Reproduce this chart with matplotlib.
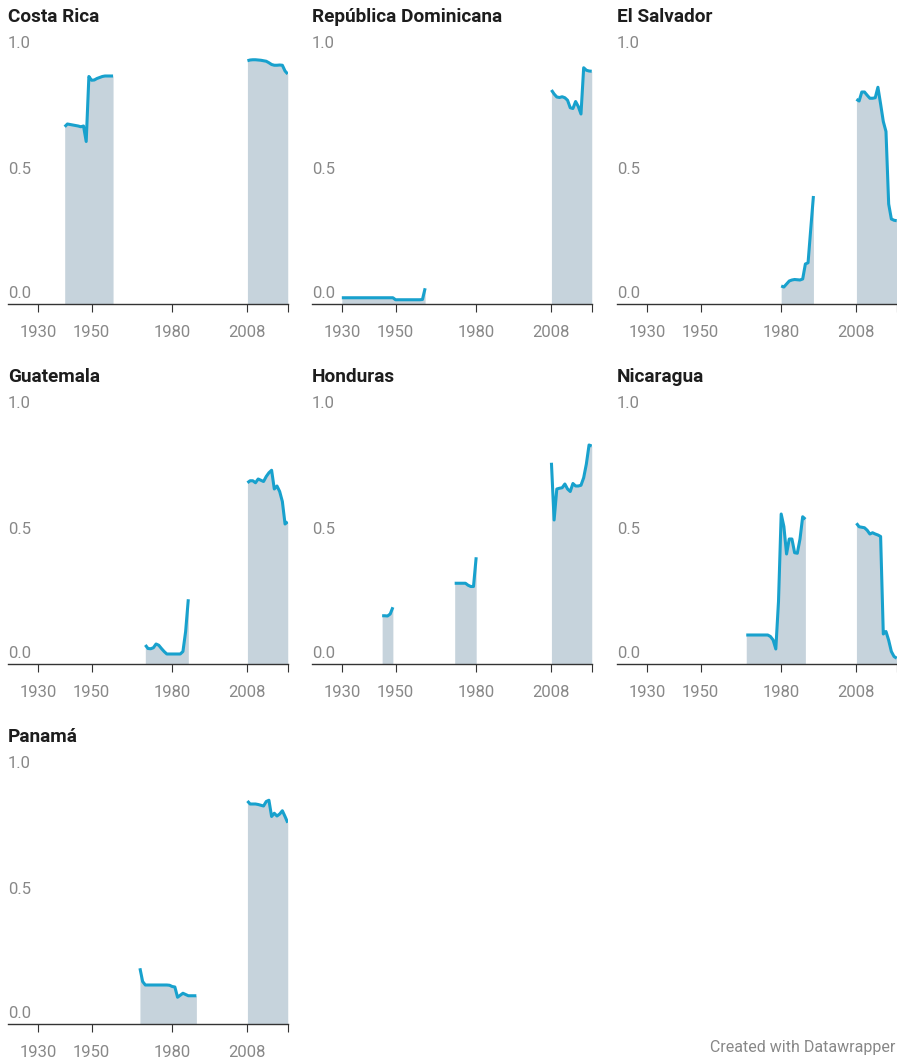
import numpy as np
import matplotlib.pyplot as plt
import matplotlib.transforms as mtransforms

plt.rcParams['font.family'] = ['Roboto', 'DejaVu Sans']

W, H = 897, 1062

countries = ['Costa Rica', 'República Dominicana', 'El Salvador',
             'Guatemala', 'Honduras', 'Nicaragua', 'Panamá']

# first year of each unbroken stretch, and the yearly values in it
costa_rica_start = [1940, 2008]
costa_rica_values = [
    [0.709, 0.72, 0.718, 0.716, 0.714, 0.712, 0.709, 0.712, 0.65, 0.91,
     0.895, 0.896, 0.902, 0.906, 0.91, 0.912, 0.912, 0.912, 0.912],
    [0.973, 0.976, 0.977, 0.977, 0.976, 0.975, 0.973, 0.971, 0.965, 0.958,
     0.955, 0.955, 0.956, 0.955, 0.932, 0.92],
]

dominicana_start = [1930, 2008]
dominicana_values = [
    [0.025, 0.025, 0.025, 0.025, 0.025, 0.025, 0.025, 0.025, 0.025, 0.025,
     0.025, 0.025, 0.025, 0.025, 0.025, 0.025, 0.025, 0.025, 0.025, 0.025,
     0.017, 0.017, 0.017, 0.017, 0.017, 0.017, 0.017, 0.017, 0.017, 0.017,
     0.018, 0.063],
    [0.856, 0.84, 0.828, 0.826, 0.829, 0.825, 0.815, 0.785, 0.782, 0.81,
     0.79, 0.76, 0.945, 0.935, 0.932, 0.931],
]

salvador_start = [1980, 2008]
salvador_values = [
    [0.072, 0.068, 0.08, 0.092, 0.096, 0.098, 0.097, 0.096, 0.1, 0.16,
     0.165, 0.30, 0.432],
    [0.819, 0.812, 0.848, 0.848, 0.835, 0.823, 0.823, 0.825, 0.867, 0.80,
     0.73, 0.69, 0.40, 0.34, 0.335, 0.333],
]

guatemala_start = [1970, 2008]
guatemala_values = [
    [0.076, 0.062, 0.061, 0.065, 0.08, 0.075, 0.062, 0.05, 0.04, 0.04,
     0.04, 0.04, 0.04, 0.04, 0.05, 0.13, 0.259],
    [0.725, 0.733, 0.733, 0.725, 0.74, 0.735, 0.73, 0.75, 0.765, 0.775,
     0.70, 0.712, 0.69, 0.65, 0.56, 0.569],
]

honduras_start = [1945, 1972, 2008]
honduras_values = [
    [0.193, 0.193, 0.192, 0.20, 0.227],
    [0.323, 0.323, 0.323, 0.323, 0.323, 0.315, 0.31, 0.31, 0.427],
    [0.805, 0.576, 0.70, 0.703, 0.705, 0.72, 0.70, 0.69, 0.722, 0.712,
     0.712, 0.715, 0.745, 0.80, 0.876, 0.872],
]

nicaragua_start = [1967, 2008]
nicaragua_values = [
    [0.116, 0.116, 0.116, 0.116, 0.116, 0.116, 0.116, 0.116, 0.116, 0.11,
     0.096, 0.06, 0.25, 0.60, 0.55, 0.44, 0.50, 0.50, 0.445, 0.443,
     0.50, 0.589, 0.579],
    [0.563, 0.549, 0.547, 0.545, 0.535, 0.52, 0.525, 0.52, 0.516, 0.51,
     0.12, 0.13, 0.095, 0.05, 0.03, 0.023],
]

panama_start = [1968, 2008]
panama_values = [
    [0.223, 0.17, 0.156, 0.156, 0.156, 0.156, 0.156, 0.156, 0.156, 0.156,
     0.156, 0.155, 0.15, 0.148, 0.107, 0.115, 0.123, 0.118, 0.113, 0.113,
     0.113, 0.113],
    [0.892, 0.88, 0.88, 0.88, 0.878, 0.875, 0.872, 0.89, 0.895, 0.83,
     0.843, 0.832, 0.84, 0.853, 0.83, 0.805],
]

starts = [costa_rica_start, dominicana_start, salvador_start, guatemala_start,
          honduras_start, nicaragua_start, panama_start]
values = [costa_rica_values, dominicana_values, salvador_values,
          guatemala_values, honduras_values, nicaragua_values, panama_values]

x_ticks = [1930, 1950, 1980, 2008, 2023]
x_tick_labels = ['1930', '1950', '1980', '2008', '']
y_ticks = [0.0, 0.5, 1.0]

line_color = '#18a1cd'
area_color = '#c6d3dc'
grey = '#888888'

# panel placement in pixels: left edge of the axis line, y of the baseline
col_left = [8, 312, 617]
row_base = [304, 664, 1024]
panel_w = 280
panel_h = 262.5

fig = plt.figure(figsize=(W / 100, H / 100), dpi=100)

for i, name in enumerate(countries):
    row, col = divmod(i, 3)
    left = col_left[col]
    base = row_base[row]
    ax = fig.add_axes([left / W, 1 - base / H, panel_w / W, panel_h / H])
    ax.set_xlim(1918.9, 2023.1)
    ax.set_ylim(0, 1.05)

    for start, vals in zip(starts[i], values[i]):
        yrs = np.arange(start, start + len(vals))
        ax.fill_between(yrs, vals, 0, color=area_color, lw=0)
        ax.plot(yrs, vals, color=line_color, lw=2.2,
                solid_joinstyle='round', solid_capstyle='butt')

    for s in ['top', 'right', 'left']:
        ax.spines[s].set_visible(False)
    ax.spines['bottom'].set_color('#333333')
    ax.spines['bottom'].set_linewidth(1)

    ax.set_xticks(x_ticks)
    ax.set_xticklabels(x_tick_labels)
    ax.tick_params(axis='x', length=5.5, width=0.8, color='#333333',
                   labelcolor=grey, labelsize=12, pad=9.5)
    ax.set_yticks([])

    # y labels sit just above their (invisible) grid lines
    ylab_tr = mtransforms.offset_copy(ax.get_yaxis_transform(), fig=fig,
                                      y=5.5, units='dots')
    for v in y_ticks:
        ax.text(0, v, f'{v:.1f}', transform=ylab_tr, ha='left',
                va='baseline', fontsize=12, color=grey)

    title_tr = mtransforms.offset_copy(ax.transAxes, fig=fig,
                                       y=281.5, units='dots')
    ax.text(0, 0, name, transform=title_tr, ha='left', va='baseline',
            fontsize=13.7, fontweight='bold', color='#1d1d1d', clip_on=False)

fig.text(895 / W, 1 - 1052 / H, 'Created with Datawrapper', ha='right',
         va='baseline', fontsize=11.5, color=grey)

fig.savefig('out.png', dpi=100)
